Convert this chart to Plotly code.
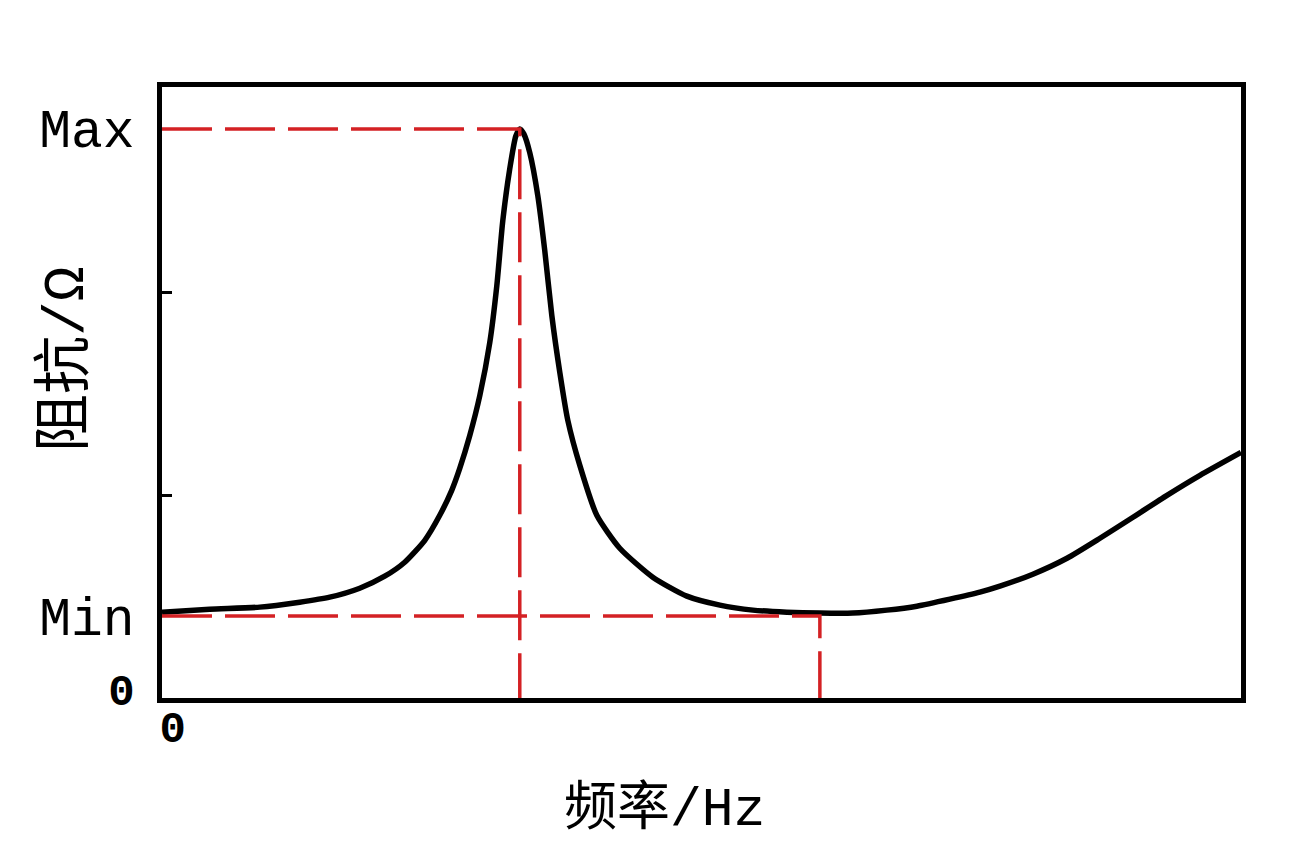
import plotly.graph_objects as go

# Impedance curve (arbitrary units)
freq = [-1.0, 3.46, 8.15, 11.89, 14.70, 17.51, 19.85, 21.72, 23.60, 25.0, 26.12, 26.87,
        27.81, 28.75, 29.68, 30.34, 30.90, 31.55, 32.12, 32.49,
        32.87, 33.43, 34.18, 34.83, 35.49, 36.24, 36.99, 38.11, 39.70, 41.85, 44.94,
        48.13, 51.22, 54.31, 57.49, 60.58, 63.67, 66.85, 69.66, 72.75, 75.56, 77.43,
        80.52, 83.71, 86.80, 89.89, 93.07, 96.16, 100.0]
impedance = [12.33, 12.83, 13.17, 14.0, 14.83, 16.33, 18.33, 20.67, 24.33, 28.5, 32.67, 36.33,
             41.83, 48.5, 57.33, 66.83, 77.67, 86.33, 91.83, 93.0,
             92.17, 89.0, 81.83, 72.67, 61.83, 52.33, 44.33, 36.83, 28.5, 23.0, 18.17,
             15.0, 13.5, 12.67, 12.33, 12.17, 12.17, 12.67, 13.33, 14.5, 15.67, 16.67,
             18.67, 21.33, 24.67, 28.17, 31.83, 35.17, 39.0]

f_max = 32.49      # frequency at maximum impedance
z_max = 93.0       # maximum impedance
f_min = 60.58      # frequency at minimum impedance
z_min = 11.67      # minimum impedance

y_tick_vals = [z_max, z_min, 0]
y_tick_text = ["Max", "Min", "<b><span style='font-size:44px'>0</span></b>"]
y_minor_ticks = [31.83, 65.67]
x_tick_vals = [0]
x_tick_text = ["<b>0</b>"]

RED = "#d42124"
dash = "50px,13px"

fig = go.Figure()

# impedance curve
fig.add_trace(go.Scatter(x=freq, y=impedance, mode="lines",
                         line=dict(color="black", width=5.5, shape="spline", smoothing=0.6),
                         hoverinfo="skip"))

# red dashed guide lines
fig.add_trace(go.Scatter(x=[-1, f_max, f_max], y=[z_max, z_max, -2], mode="lines",
                         line=dict(color=RED, width=3.5, dash=dash), hoverinfo="skip"))
fig.add_trace(go.Scatter(x=[-1, f_min, f_min], y=[z_min, z_min, -2], mode="lines",
                         line=dict(color=RED, width=3.5, dash=dash), hoverinfo="skip"))

fig.update_layout(
    width=1284, height=840,
    margin=dict(l=154, r=51, t=79, b=150),
    paper_bgcolor="white", plot_bgcolor="white",
    showlegend=False,
    font=dict(family="Liberation Mono", color="black"),
)

fig.update_xaxes(
    range=[-1, 100], showgrid=False, zeroline=False,
    showline=True, linecolor="black", linewidth=4.5, mirror=True,
    tickmode="array", tickvals=x_tick_vals, ticktext=x_tick_text,
    ticks="", tickfont=dict(family="Liberation Mono", size=44, color="black"),
    ticklabelstandoff=-14,
)
fig.update_yaxes(
    range=[-2, 100], showgrid=False, zeroline=False,
    showline=True, linecolor="black", linewidth=4.5, mirror=True,
    tickmode="array", tickvals=y_tick_vals, ticktext=y_tick_text,
    ticks="", tickfont=dict(family="Liberation Mono", size=53, color="black"),
    ticklabelstandoff=12,
    minor=dict(tickmode="array", tickvals=y_minor_ticks, ticks="inside",
               ticklen=10, tickwidth=3, tickcolor="black"),
)

fig.add_annotation(text="阻抗/Ω", xref="paper", yref="paper", x=-0.088, y=0.555,
                   xanchor="center", yanchor="middle",
                   textangle=-90, showarrow=False,
                   font=dict(family="Liberation Mono, Noto Sans CJK SC", size=58, color="black"))
fig.add_annotation(text="频率/Hz", xref="paper", yref="paper", x=0.466, y=-0.183,
                   xanchor="center", yanchor="middle",
                   showarrow=False,
                   font=dict(family="Liberation Mono, Noto Sans CJK SC", size=53, color="black"))

fig.write_html("out.html")
